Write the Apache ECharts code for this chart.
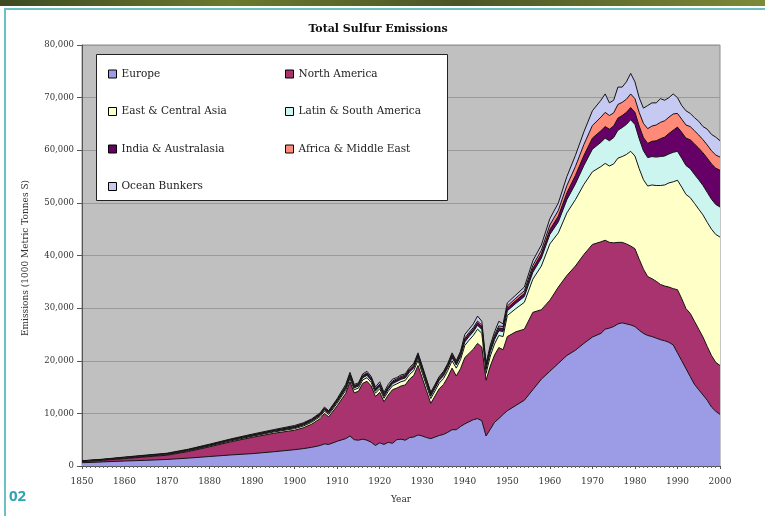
<!DOCTYPE html>
<html>
<head>
<meta charset="utf-8">
<script src="https://cdn.jsdelivr.net/npm/echarts@6/dist/echarts.min.js"></script>
<style>
  html, body { margin: 0; padding: 0; background: #ffffff; }
  #chart { width: 765px; height: 516px; }
</style>
</head>
<body>
<div id="chart"></div>
<script>
// Total sulfur emissions by region, thousand metric tonnes of S
const years = [1850,1855,1860,1865,1870,1875,1880,1885,1890,1895,1900,1902,1904,1906,1907,1908,1910,1912,1913,1914,1915,1916,1917,1918,1919,1920,1921,1922,1923,1924,1925,1926,1927,1928,1929,1930,1931,1932,1933,1934,1935,1936,1937,1938,1939,1940,1941,1942,1943,1944,1945,1946,1947,1948,1949,1950,1952,1954,1956,1958,1960,1962,1964,1966,1968,1970,1972,1973,1974,1975,1976,1977,1978,1979,1980,1981,1982,1983,1984,1985,1986,1987,1988,1989,1990,1991,1992,1993,1994,1995,1996,1997,1998,1999,2000];

const europe = [620,780,950,1080,1250,1500,1800,2100,2350,2700,3100,3300,3550,3900,4200,4100,4700,5200,5700,5000,4900,5100,4900,4500,3900,4400,4100,4500,4300,5000,5100,4900,5400,5500,5900,5700,5400,5200,5500,5800,6000,6400,6900,6900,7500,8000,8400,8800,9000,8600,5700,7000,8300,9000,9800,10500,11500,12500,14500,16500,18000,19500,21000,22000,23300,24500,25200,26000,26200,26500,27000,27200,27000,26800,26500,25800,25200,24800,24600,24300,24000,23800,23500,23000,21500,20000,18500,17000,15500,14500,13500,12500,11200,10400,9800];

const northAmerica = [200,300,460,650,800,1250,1850,2500,3100,3500,3700,3950,4400,5100,5800,5250,6750,8600,10300,8900,9300,10600,11200,10700,9300,9600,8100,9000,10200,9800,10100,10500,11100,11700,13200,11000,8900,6700,7800,8900,9500,10500,11700,10200,11000,12600,13000,13400,14300,14000,10600,12000,12800,13500,12300,14100,14000,13500,14700,13200,13500,14500,15200,16000,16900,17600,17400,16900,16300,15900,15500,15300,15200,15000,14800,13500,12200,11200,11000,10800,10500,10400,10500,10700,12000,11800,11400,12000,12000,11500,11000,10200,9800,9300,9300];

const eastCentralAsia = [60,70,90,110,120,140,160,180,200,250,300,330,350,400,430,430,480,580,620,600,600,650,680,670,640,680,660,700,730,800,820,850,880,920,980,950,930,920,960,1050,1120,1250,1400,1500,1700,2300,2500,2600,2700,2600,1300,1900,2100,2300,2500,4000,4400,5100,6300,8300,10700,10300,11900,12600,13300,13800,14300,14600,14500,15000,16000,16300,17000,18000,17600,17200,17000,17200,17800,18200,18800,19200,19800,20300,20800,21200,21700,22000,22400,22800,23200,23600,24000,24300,24400];

const latinSouthAmerica = [30,40,50,60,70,80,90,100,110,130,170,190,210,230,250,250,290,350,380,360,380,420,440,420,400,420,380,400,420,450,460,470,490,510,540,520,500,480,500,520,540,560,590,600,620,680,700,720,740,760,780,800,850,900,950,900,1000,1100,1300,1500,1800,2100,2500,3000,3600,4300,4600,4800,4800,5000,5300,5500,5700,6000,6000,5700,5500,5400,5400,5400,5500,5500,5500,5600,5500,5500,5500,5500,5500,5600,5600,5700,5700,5700,5700];

const indiaAustralasia = [30,40,50,60,70,80,90,100,110,130,180,190,200,220,230,230,250,280,300,290,290,300,310,300,290,300,290,300,310,330,340,350,360,370,380,370,360,350,360,370,380,390,400,410,420,440,450,460,470,480,470,480,500,520,540,500,550,600,700,800,900,1100,1300,1600,1900,2100,2200,2200,2200,2200,2300,2300,2300,2300,2300,2400,2500,2700,2900,3100,3400,3600,3900,4200,4600,4900,5200,5500,5800,6000,6200,6500,6700,6900,7000];

const africaMiddleEast = [30,30,40,40,40,50,50,50,50,60,80,80,90,100,110,110,120,130,140,130,130,140,150,150,150,160,160,170,180,200,200,210,220,230,240,240,230,220,230,240,250,260,270,280,290,300,310,320,330,340,340,350,380,400,420,400,450,500,600,700,900,1100,1400,1700,2100,2400,2600,2700,2600,2500,2600,2500,2500,2600,2600,2600,2700,2800,2900,3000,3100,3100,3100,3100,2600,2500,2500,2500,2500,2500,2500,2500,2500,2500,2500];

const oceanBunkers = [30,40,60,70,80,100,110,120,130,130,170,160,150,150,180,130,210,360,360,220,200,290,320,260,320,440,310,430,360,220,280,220,250,270,260,220,180,130,150,120,210,140,240,110,270,680,640,700,960,720,310,470,570,880,490,600,600,700,900,1000,1200,1400,1700,2100,2400,2800,3200,3500,2400,2400,3300,2900,3300,3900,3200,2800,2900,4400,4400,4200,4500,3900,3700,3800,3000,2600,2700,2500,2500,2600,2500,3000,3100,3400,3100];

const regionNames = ['Europe','North America','East & Central Asia','Latin & South America','India & Australasia','Africa & Middle East','Ocean Bunkers'];
const regionValues = [europe, northAmerica, eastCentralAsia, latinSouthAmerica, indiaAustralasia, africaMiddleEast, oceanBunkers];
const regionColors = ['#9c9ce6','#a8336e','#ffffc8','#ccf5f0','#660066','#ff8a78','#c6caf2'];

const yTicks = [0,10000,20000,30000,40000,50000,60000,70000,80000];

// Running totals: each region's band sits on top of the regions listed before it.
const cumulative = [];
regionValues.forEach((vals, k) => {
  cumulative.push(vals.map((v, i) => v + (k > 0 ? cumulative[k - 1][i] : 0)));
});

const serif = '"DejaVu Serif", "Liberation Serif", serif';
const chart = echarts.init(document.getElementById('chart'));

// Each band is filled down to zero; lower bands are painted over upper ones.
const series = regionNames.map((name, k) => ({
  name: name,
  type: 'line',
  showSymbol: false,
  symbol: 'none',
  data: years.map((y, i) => [y, cumulative[k][i]]),
  lineStyle: { color: '#141414', width: 1 },
  areaStyle: { color: regionColors[k], opacity: 1, origin: 'start' },
  itemStyle: { color: regionColors[k], borderColor: '#000', borderWidth: 1 },
  emphasis: { disabled: true },
  z: 9 - k
}));

const legendText = { fontFamily: serif, fontSize: 10.5, color: '#222', lineHeight: 12 };
const legendCommon = {
  orient: 'vertical',
  icon: 'rect',
  itemWidth: 8,
  itemHeight: 8,
  itemGap: 25.5,
  itemStyle: { borderColor: '#000', borderWidth: 1 },
  z: 20,
  textStyle: legendText,
  selectedMode: false
};

chart.setOption({
  animation: false,
  backgroundColor: '#ffffff',
  title: {
    text: 'Total Sulfur Emissions',
    left: 373,
    textAlign: 'center',
    top: 19,
    textStyle: { fontFamily: serif, fontSize: 11, fontWeight: 'bold', color: '#111' }
  },
  grid: {
    left: 82, right: 45, top: 45, bottom: 50,
    show: true,
    backgroundColor: '#c0c0c0',
    borderColor: '#8c8c8c',
    borderWidth: 1
  },
  legend: [
    Object.assign({}, legendCommon, {
      left: 103, top: 63,
      data: ['Europe','East & Central Asia','India & Australasia','Ocean Bunkers']
    }),
    Object.assign({}, legendCommon, {
      left: 280, top: 63,
      data: ['North America','Latin & South America','Africa & Middle East']
    })
  ],
  xAxis: {
    type: 'value',
    min: 1850,
    max: 2000,
    interval: 10,
    name: 'Year',
    nameLocation: 'middle',
    nameGap: 29,
    nameTextStyle: { fontFamily: serif, fontSize: 9, color: '#333' },
    axisLine: { lineStyle: { color: '#555', width: 1 } },
    axisTick: { show: true, length: 3, lineStyle: { color: '#555' } },
    minorTick: { show: true, splitNumber: 10, length: 2, lineStyle: { color: '#666' } },
    axisLabel: { fontFamily: serif, fontSize: 9, color: '#333', margin: 11, formatter: v => String(v) },
    splitLine: { show: false }
  },
  yAxis: {
    type: 'value',
    min: 0,
    max: 80000,
    interval: 10000,
    axisLine: { show: true, lineStyle: { color: '#555' } },
    axisTick: { show: true, length: 5, lineStyle: { color: '#555' } },
    axisLabel: {
      fontFamily: serif, fontSize: 8.5, color: '#333', margin: 8,
      formatter: v => yTicks.indexOf(v) >= 0 ? v.toLocaleString('en-US') : ''
    },
    splitLine: { show: true, lineStyle: { color: '#9a9a9a', width: 1 } }
  },
  graphic: [
    { type: 'rect', shape: { x: 0, y: 0, width: 765, height: 6 },
      style: { fill: new echarts.graphic.LinearGradient(0, 0, 1, 0, [
        { offset: 0, color: '#3d4a22' }, { offset: 0.3, color: '#6b7a2e' },
        { offset: 0.6, color: '#4a5526' }, { offset: 1, color: '#7d8a38' }]) }, z: 30 },
    { type: 'rect', shape: { x: 4, y: 8, width: 761, height: 2 }, style: { fill: '#6cc0c2' }, z: 30 },
    { type: 'rect', shape: { x: 4, y: 8, width: 2, height: 508 }, style: { fill: '#6cc0c2' }, z: 30 },
    { type: 'text', left: 9, top: 489, z: 30,
      style: { text: '02', fill: '#2fa5b3', font: 'bold 15px "Open Sans", "DejaVu Sans", sans-serif' } },
    { type: 'rect', shape: { x: 96.5, y: 54.5, width: 351, height: 146 },
      style: { fill: '#ffffff', stroke: '#222', lineWidth: 1 }, z: 10 },
    { type: 'text', x: 26, y: 258, rotation: Math.PI / 2, z: 30,
      style: { text: 'Emissions (1000 Metric Tonnes S)', fill: '#333',
               font: '9px "DejaVu Serif", serif', textAlign: 'center', textVerticalAlign: 'middle' } }
  ],
  series: series
});
</script>
</body>
</html>
